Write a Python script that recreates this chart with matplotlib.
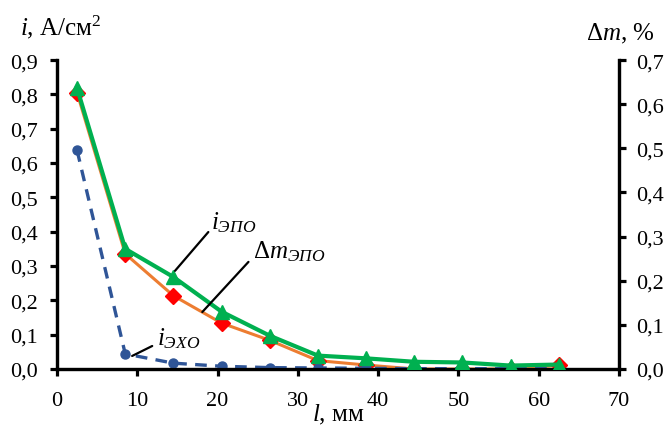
import matplotlib
matplotlib.use('Agg')
import matplotlib.pyplot as plt
from matplotlib.ticker import FuncFormatter, MultipleLocator

plt.rcParams['font.family'] = ['Liberation Serif', 'DejaVu Serif']
plt.rcParams['mathtext.fontset'] = 'custom'
plt.rcParams['mathtext.rm'] = 'Liberation Serif'
plt.rcParams['mathtext.it'] = 'Liberation Serif:italic'

# distance along the sample, mm
l_mm = [2.5, 8.5, 14.5, 20.5, 26.5, 32.5, 38.5, 44.5, 50.5, 56.5, 62.5]
# current density, A/cm2 (left axis)
i_epo = [0.818, 0.350, 0.268, 0.167, 0.097, 0.039, 0.031, 0.021, 0.019, 0.010, 0.013]
i_eho = [0.637, 0.044, 0.017, 0.008, 0.004, 0.003, 0.002, 0.001, 0.001, 0.001, 0.001]
# mass loss, % (right axis)
dm_epo = [0.626, 0.261, 0.166, 0.104, 0.065, 0.019, 0.009, 0.000, 0.000, 0.000, 0.008]

GREEN = '#00B050'
ORANGE = '#ED7D31'
RED = '#FF0000'
BLUE = '#2F5597'

fig = plt.figure(figsize=(6.69, 4.27), dpi=100)
ax2 = fig.add_axes([0.0852, 0.1335, 0.840, 0.7235])
ax = ax2.twinx()
# left (current) axis on top of the right one so green covers red
ax.yaxis.set_label_position('left')
ax.yaxis.tick_left()
ax2.yaxis.tick_right()
ax.set_zorder(ax2.get_zorder() + 1)
ax.patch.set_visible(False)

ax2.plot(l_mm, dm_epo, color=ORANGE, lw=2.2, marker='D', ms=8,
         mfc=RED, mec=RED, zorder=3)
ax.plot(l_mm, i_eho, color=BLUE, lw=2.4, ls=(0, (3.5, 2.5)), marker='o', ms=6.5,
        mfc=BLUE, mec=BLUE, zorder=2)
ax.plot(l_mm, i_epo, color=GREEN, lw=3, marker='^', ms=10,
        mfc=GREEN, mec=GREEN, zorder=3)

comma = FuncFormatter(lambda v, p: f'{v:.1f}'.replace('.', ','))
for a in (ax, ax2):
    a.set_xlim(0, 70)
    a.xaxis.set_major_locator(MultipleLocator(10))
    a.yaxis.set_major_locator(MultipleLocator(0.1))
    a.yaxis.set_major_formatter(comma)
    for s in a.spines.values():
        s.set_linewidth(2.3)
    a.spines['top'].set_visible(False)
    a.tick_params(direction='out', width=2.3, length=5, labelsize=16)
ax.set_ylim(0, 0.9)
ax2.set_ylim(0, 0.7)
ax.spines['right'].set_visible(True)
ax.tick_params(axis='x', bottom=False, labelbottom=False)
ax.tick_params(axis='y', pad=9)
ax2.tick_params(axis='y', pad=7)
ax2.tick_params(axis='x', pad=11)
ax2.xaxis.set_major_formatter(FuncFormatter(lambda v, p: f'{v:.0f}'))

ax2.set_xlabel(r'$\mathit{l}$, мм', fontsize=18, labelpad=-6)
fig.text(0.03, 0.916, r'$\mathit{i}$, А/см$^2$', fontsize=18, ha='left', va='baseline')
fig.text(0.979, 0.906, r'Δ$\mathit{m}$, %', fontsize=18, ha='right', va='baseline')

line_kw = dict(arrowstyle='-', color='black', lw=1.6, shrinkA=0, shrinkB=0)
ax.annotate('', xy=(14.7, 0.286), xytext=(18.85, 0.399), arrowprops=line_kw)
ax.text(19.2, 0.41, r'$\mathit{i}_{\mathit{ЭПО}}$', fontsize=18, ha='left', va='baseline')
ax.annotate('', xy=(18.1, 0.166), xytext=(23.85, 0.312), arrowprops=line_kw)
ax.text(24.4, 0.325, r'$\mathit{Δm}_{\mathit{ЭПО}}$', fontsize=18, ha='left', va='baseline')
ax.annotate('', xy=(9.36, 0.038), xytext=(11.86, 0.067), arrowprops=line_kw)
ax.text(12.4, 0.072, r'$\mathit{i}_{\mathit{ЭХО}}$', fontsize=18, ha='left', va='baseline')

fig.savefig('out.png', dpi=100)
